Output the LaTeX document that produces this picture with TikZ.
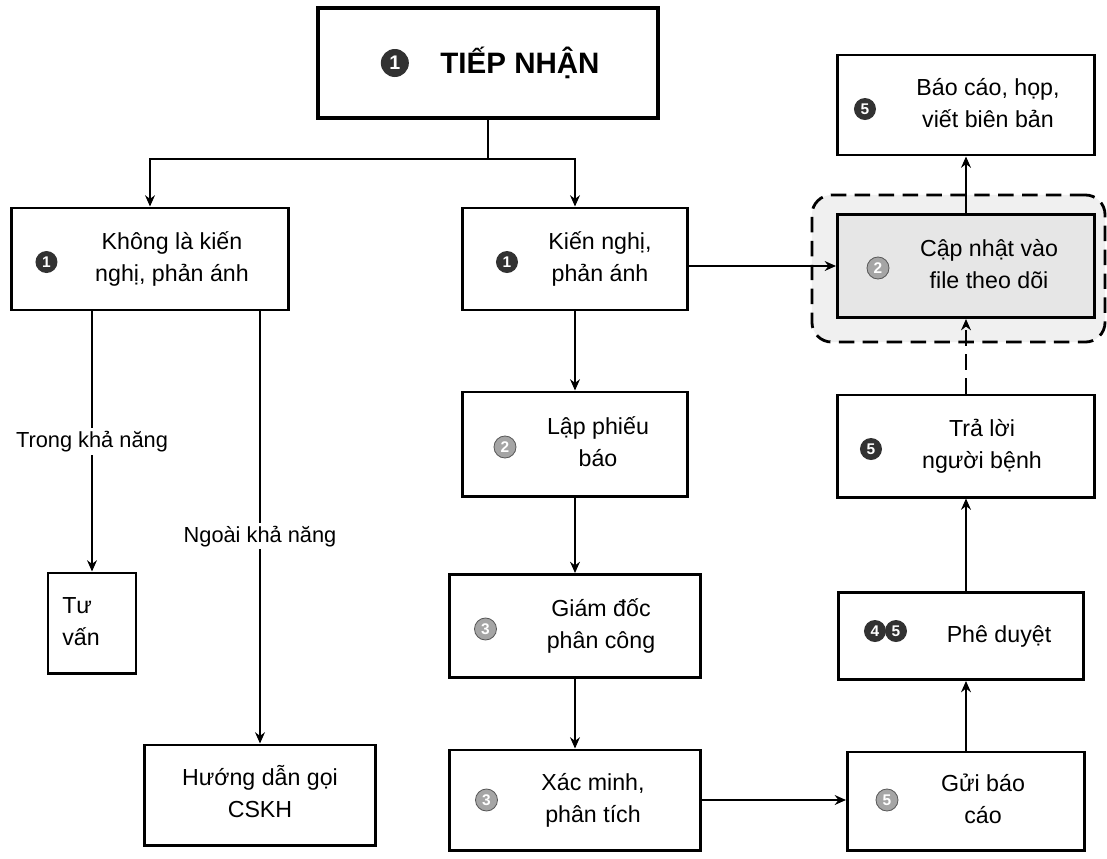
\documentclass[tikz,border=0pt]{standalone}
\usepackage{fontspec}
\setmainfont{Liberation Sans}
\usepackage{tikz}
\usetikzlibrary{arrows.meta,positioning,calc}
\definecolor{boxgray}{RGB}{240,240,240}
\definecolor{boxshade}{RGB}{230,230,230}
\definecolor{circdark}{RGB}{50,50,50}
\definecolor{circlight}{RGB}{165,165,165}

\newcommand{\boxtext}[2]{\hspace*{#1}\begin{tabular}{@{}c@{}}#2\end{tabular}}

\begin{document}
\begin{tikzpicture}[
    x=0.025cm, y=-0.025cm,
    box/.style={rectangle, draw, line width=2.1pt, fill=white, inner sep=0pt, font=\fontsize{16.5}{23}\selectfont},
    numdark/.style={circle, fill=circdark, text=white, inner sep=0pt, minimum size=0.55cm, font=\bfseries\fontsize{11}{11}\selectfont},
    numlight/.style={numdark, fill=circlight, draw=gray!70!black, line width=0.6pt},
    lbl/.style={fill=white, inner sep=2pt, font=\fontsize{15.5}{18}\selectfont},
    arrow/.style={->, >={Stealth[length=8pt,width=7pt]}, line width=1.4pt},
    dashline/.style={dash pattern=on 11pt off 6pt}
]
    \useasboundingbox (0,0) rectangle (1107,858);

    % top
    \node[box, line width=3pt, minimum width=8.5cm, minimum height=2.75cm, font=\bfseries\fontsize{21}{26}\selectfont] (tn) at (488,63) {\hspace*{1.6cm}TIẾP NHẬN};

    % left branch
    \node[box, minimum width=6.9cm, minimum height=2.55cm] (khong) at (150,259) {\boxtext{1.1cm}{Không là kiến\\nghị, phản ánh}};
    \node[box, minimum width=2.2cm, minimum height=2.5cm] (tuvan) at (92,623) {\hspace*{-0.55cm}\begin{tabular}{@{}l@{}}Tư\\vấn\end{tabular}};
    \node[box, minimum width=5.75cm, minimum height=2.5cm] (cskh) at (260,795) {\boxtext{0cm}{Hướng dẫn gọi\\CSKH}};

    % middle column
    \node[box, minimum width=5.625cm, minimum height=2.55cm] (kn) at (575,259) {\boxtext{1.25cm}{Kiến nghị,\\phản ánh}};
    \node[box, minimum width=5.625cm, minimum height=2.6cm] (phieu) at (575,444) {\boxtext{1.15cm}{Lập phiếu\\báo}};
    \node[box, minimum width=6.25cm, minimum height=2.575cm] (gd) at (575,626) {\boxtext{1.3cm}{Giám đốc\\phân công}};
    \node[box, minimum width=6.25cm, minimum height=2.5cm] (xm) at (575,800) {\boxtext{0.9cm}{Xác minh,\\phân tích}};

    % right column
    \node[draw, dashline, rounded corners=14pt, line width=2pt, fill=boxgray, minimum width=7.325cm, minimum height=3.675cm] (frame) at (958.5,268.5) {};
    \node[box, fill=boxshade, minimum width=6.425cm, minimum height=2.575cm] (capnhat) at (966,266) {\boxtext{1.15cm}{Cập nhật vào\\file theo dõi}};
    \node[box, minimum width=6.425cm, minimum height=2.5cm] (baocao) at (966,105) {\boxtext{1.1cm}{Báo cáo, họp,\\viết biên bản}};
    \node[box, minimum width=6.425cm, minimum height=2.55cm] (traloi) at (966,446) {\boxtext{0.8cm}{Trả lời\\người bệnh}};
    \node[box, minimum width=6.125cm, minimum height=2.175cm] (duyet) at (961,636) {\boxtext{1.9cm}{Phê duyệt}};
    \node[box, minimum width=5.925cm, minimum height=2.45cm] (gui) at (966,801) {\boxtext{0.85cm}{Gửi báo\\cáo}};

    % numbers
    \node[numdark, minimum size=0.7cm, font=\bfseries\fontsize{14}{14}\selectfont] (n-tn) at ($(tn.west)+(79,0)$) {1};
    \node[numdark] (n-khong) at ($(khong.west)+(36,3)$) {1};
    \node[numdark] (n-kn) at ($(kn.west)+(46,3)$) {1};
    \node[numlight] (n-phieu) at ($(phieu.west)+(44,3)$) {2};
    \node[numlight] (n-gd) at ($(gd.west)+(37,3)$) {3};
    \node[numlight] (n-xm) at ($(xm.west)+(38,0)$) {3};
    \node[numdark] (n-baocao) at ($(baocao.west)+(29,4)$) {5};
    \node[numlight] (n-capnhat) at ($(capnhat.west)+(42,2)$) {2};
    \node[numdark] (n-traloi) at ($(traloi.west)+(35,3)$) {5};
    \node[numdark] (n-duyet) at ($(duyet.west)+(38,-5)$) {4};
    \node[numdark] (n-duyet2) at ($(duyet.west)+(59,-5)$) {5};
    \node[numlight] (n-gui) at ($(gui.west)+(41,-1)$) {5};

    % connectors
    \coordinate (split) at ($(tn.south)+(0,39)$);
    \draw[line width=1.4pt] (tn.south) -- (split);
    \draw[arrow] (split) -| (khong.north);
    \draw[arrow] (split) -| (kn.north);
    \draw[arrow] (khong.south -| tuvan.north) -- node[lbl, pos=0.5] {Trong khả năng} (tuvan.north);
    \draw[arrow] (khong.south -| cskh.north) -- node[lbl, pos=0.52] {Ngoài khả năng} (cskh.north);
    \draw[arrow] (kn) -- (phieu);
    \draw[arrow] (phieu) -- (gd);
    \draw[arrow] (gd) -- (xm);
    \draw[arrow] (xm.east) -- (xm.east -| gui.west);
    \draw[arrow] (gui) -- (gui |- duyet.south);
    \draw[arrow] (duyet.north -| traloi) -- (traloi);
    \draw[arrow, dashline] (traloi) -- (capnhat);
    \draw[arrow] (capnhat) -- (baocao);
    \draw[arrow] (kn.east |- capnhat.west) -- (capnhat.west);
\end{tikzpicture}
\end{document}
